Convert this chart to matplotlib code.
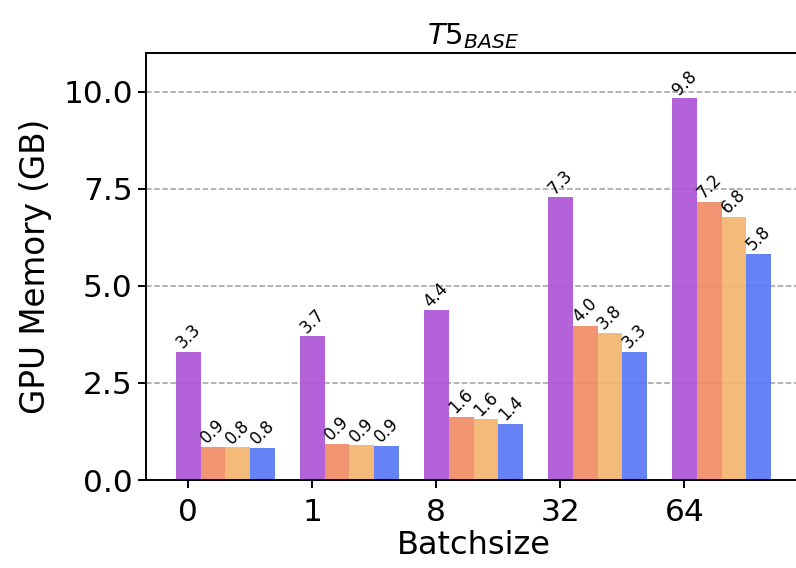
import matplotlib.pyplot as plt
import numpy as np

batch_sizes = ["0", "1", "8", "32", "64"]
series_a = [3.31, 3.70, 4.37, 7.28, 9.83]
series_b = [0.86, 0.93, 1.62, 3.97, 7.16]
series_c = [0.84, 0.89, 1.56, 3.78, 6.78]
series_d = [0.83, 0.88, 1.44, 3.31, 5.82]
colors = ["#ad55d6", "#f08b65", "#f3b46f", "#5878f4"]

fig = plt.figure(figsize=(7.96, 5.68), dpi=100)
ax = fig.add_axes([146 / 796, 88 / 568, 655 / 796, 427 / 568])

x = np.arange(len(batch_sizes))
w = 0.2
for k, vals in enumerate([series_a, series_b, series_c, series_d]):
    bars = ax.bar(x + k * w, vals, w, color=colors[k], alpha=0.92, zorder=2)
    for b, v in zip(bars, vals):
        ax.text(b.get_x() + b.get_width() / 2, v, f"{v:.1f}", rotation=45,
                ha="center", va="bottom", fontsize=12, zorder=3)

ax.set_ylim(0, 11)
ax.set_yticks([0, 2.5, 5.0, 7.5, 10.0])
ax.set_xticks(x)
ax.set_xticklabels(batch_sizes)
ax.yaxis.grid(True, linestyle="--", color="gray", alpha=0.75, linewidth=1.1, zorder=0)
ax.set_axisbelow(True)
ax.tick_params(axis="both", labelsize=22.5, width=1.4, length=6)
ax.tick_params(axis="x", pad=7)
ax.set_xlabel("Batchsize", fontsize=23, labelpad=2)
ax.set_ylabel("GPU Memory (GB)", fontsize=23.5, labelpad=8)
ax.set_title(r"$T5_{BASE}$", fontsize=21)
for s in ax.spines.values():
    s.set_linewidth(1.4)

plt.savefig("out.png", dpi=100)
plt.close()
